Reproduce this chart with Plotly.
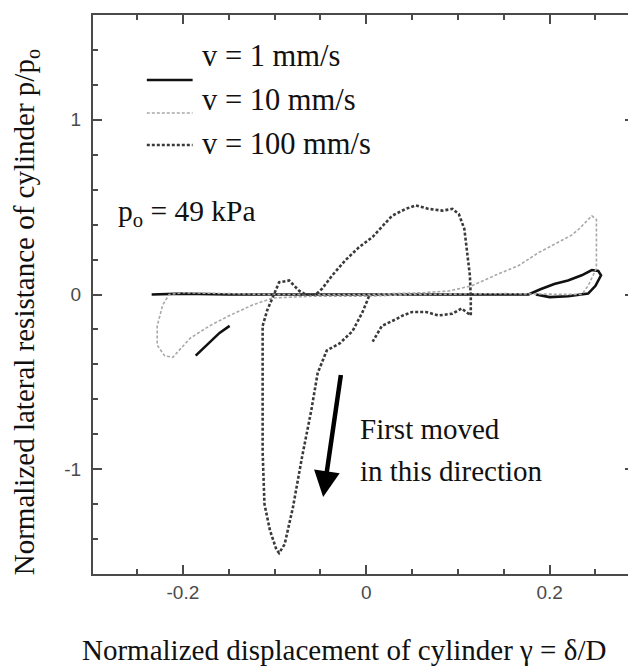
import plotly.graph_objects as go

# ---- data ----
# v = 1 mm/s (solid) : short initial segment, then main path with loop on the right
v1_x = [-0.186, -0.174, -0.160, -0.149, None,
        -0.234, -0.200, -0.150, -0.100, -0.050, 0.000, 0.050, 0.100, 0.150, 0.177,
        0.190, 0.205, 0.220, 0.235, 0.246, 0.253, 0.256, 0.250, 0.242, 0.220, 0.200, 0.185]
v1_y = [-0.35, -0.29, -0.22, -0.18, None,
        0.00, 0.005, 0.00, 0.00, 0.00, 0.00, 0.00, 0.00, 0.00, 0.00,
        0.03, 0.06, 0.08, 0.11, 0.14, 0.135, 0.11, 0.05, 0.005, -0.01, -0.015, 0.00]

# v = 10 mm/s (light dotted)
v10_x = [0.235, 0.150, 0.050, 0.000, -0.060, -0.102, -0.124, -0.149, -0.171, -0.192,
         -0.211, -0.220, -0.228, -0.228, -0.222, -0.215, -0.200, -0.150, -0.100, 0.000,
         0.060, 0.090, 0.115, 0.145, 0.166, 0.188, 0.210, 0.224, 0.232, 0.246, 0.251,
         0.251, 0.251, 0.242, 0.235]
v10_y = [0.00, 0.005, 0.00, -0.01, -0.01, -0.02, -0.06, -0.12, -0.18, -0.25,
         -0.36, -0.35, -0.29, -0.18, -0.06, 0.00, 0.01, 0.005, 0.00, 0.00,
         0.01, 0.02, 0.05, 0.12, 0.165, 0.24, 0.30, 0.34, 0.375, 0.45, 0.43,
         0.24, 0.15, 0.05, 0.00]

# v = 100 mm/s (dark dotted)
v100_x = [0.003, -0.004, -0.015, -0.029, -0.043, -0.053, -0.060, -0.070, -0.080, -0.089,
          -0.095, -0.098, -0.105, -0.111, -0.113, -0.113, -0.113, -0.108, -0.102, -0.095,
          -0.084, -0.073, -0.066, -0.055, -0.048, -0.037, -0.022, -0.008, 0.007, 0.017,
          0.028, 0.043, 0.054, 0.068, 0.083, 0.094, 0.101, 0.107, 0.110, 0.113,
          0.114, 0.114, 0.104, 0.094, 0.079, 0.065, 0.050, 0.040, 0.033, 0.017, 0.007]
v100_y = [-0.01, -0.10, -0.21, -0.28, -0.32, -0.45, -0.665, -0.93, -1.22, -1.43,
          -1.48, -1.46, -1.35, -1.20, -0.90, -0.50, -0.18, -0.09, -0.02, 0.07,
          0.08, 0.02, 0.00, 0.00, 0.034, 0.11, 0.20, 0.27, 0.33, 0.39,
          0.45, 0.49, 0.51, 0.49, 0.48, 0.49, 0.46, 0.375, 0.24, 0.11,
          -0.02, -0.12, -0.08, -0.11, -0.12, -0.10, -0.10, -0.12, -0.14, -0.18, -0.27]

series_names = ["v = 1 mm/s", "v = 10 mm/s", "v = 100 mm/s"]
x_tickvals = [-0.2, 0, 0.2]
x_ticktext = ["-0.2", "0", "0.2"]
y_tickvals = [-1, 0, 1]
y_ticktext = ["-1", "0", "1"]

# ---- layout helpers: page has an 8px body margin, so figure is offset by 8px ----
OFF = 8
W, H = 636 - OFF, 666 - OFF
L, R, T, B = 93 - OFF, 0, 15 - OFF, 92
PW, PH = W - L - R, H - T - B
def px(x): return (x - OFF - L) / PW          # reference pixel -> paper x
def py(y): return (H - B - (y - OFF)) / PH    # reference pixel -> paper y

SERIF = "Liberation Serif, Times New Roman, serif"
styles = [dict(color="#111111", width=2.6),
          dict(color="#a8a8a8", width=1.6, dash="3px,2px"),
          dict(color="#3a3a3a", width=2.6, dash="3px,2px")]

fig = go.Figure()
for xs, ys, nm, st in zip([v1_x, v10_x, v100_x], [v1_y, v10_y, v100_y], series_names, styles):
    fig.add_trace(go.Scatter(x=xs, y=ys, mode="lines", name=nm, line=st,
                             showlegend=False, connectgaps=False))

# hand-drawn style legend (lines offset from text as in the reference)
leg_line_y = [80, 113, 145]
leg_text_y = [56, 100, 144]
for st, ly, ty, nm in zip(styles, leg_line_y, leg_text_y, series_names):
    fig.add_shape(type="line", xref="paper", yref="paper",
                  x0=px(147), x1=px(193), y0=py(ly), y1=py(ly),
                  line=st)
    fig.add_annotation(xref="paper", yref="paper", x=px(200), y=py(ty),
                       xanchor="left", yanchor="middle", showarrow=False,
                       text=nm, font=dict(family=SERIF, size=30.5, color="#111"))

fig.add_annotation(xref="paper", yref="paper", x=px(116), y=py(213),
                   xanchor="left", yanchor="middle", showarrow=False,
                   text="p<sub>o</sub> = 49 kPa", font=dict(family=SERIF, size=29.5, color="#111"))
fig.add_annotation(xref="paper", yref="paper", x=px(359), y=py(429),
                   xanchor="left", yanchor="middle", showarrow=False,
                   text="First moved", font=dict(family=SERIF, size=29, color="#111"))
fig.add_annotation(xref="paper", yref="paper", x=px(359), y=py(471),
                   xanchor="left", yanchor="middle", showarrow=False,
                   text="in this direction", font=dict(family=SERIF, size=29, color="#111"))
# arrow
fig.add_annotation(xref="paper", yref="paper", x=px(324), y=py(497),
                   axref="pixel", ayref="pixel", ax=18, ay=-124,
                   showarrow=True, arrowhead=2, arrowsize=1.15, arrowwidth=4.5,
                   arrowcolor="#000", text=" ", font=dict(size=1))
# axis titles
fig.add_annotation(xref="paper", yref="paper", x=px(345), y=py(650),
                   xanchor="center", yanchor="middle", showarrow=False,
                   text="Normalized displacement of cylinder γ = δ/D",
                   font=dict(family=SERIF, size=29, color="#111"))
fig.add_annotation(xref="paper", yref="paper", x=px(26), y=py(312),
                   xanchor="center", yanchor="middle", showarrow=False, textangle=-90,
                   text="Normalized lateral resistance of cylinder p/p<sub>o</sub>",
                   font=dict(family=SERIF, size=29, color="#111"))

axis_common = dict(showline=True, linecolor="#4a4a4a", linewidth=2, mirror="allticks",
                   ticks="inside", ticklen=9, tickwidth=2, tickcolor="#4a4a4a",
                   showgrid=False, zeroline=False,
                   tickfont=dict(family="Liberation Sans, Arial, sans-serif", size=19, color="#4a4a4a"))
fig.update_xaxes(range=[-0.298, 0.292], tickvals=x_tickvals, ticktext=x_ticktext,
                 minor=dict(dtick=0.05, tick0=0, ticks="inside", ticklen=5, tickwidth=1.5,
                            tickcolor="#4a4a4a", showgrid=False),
                 ticklabelstandoff=0, **axis_common)
fig.update_yaxes(range=[-1.6, 1.6], tickvals=y_tickvals, ticktext=y_ticktext,
                 minor=dict(dtick=0.2, tick0=0, ticks="inside", ticklen=5, tickwidth=1.5,
                            tickcolor="#4a4a4a", showgrid=False),
                 ticklabelstandoff=6, **axis_common)
fig.update_layout(width=W, height=H, margin=dict(l=L, r=R, t=T, b=B),
                  plot_bgcolor="white", paper_bgcolor="white")
fig.write_html("out.html")
